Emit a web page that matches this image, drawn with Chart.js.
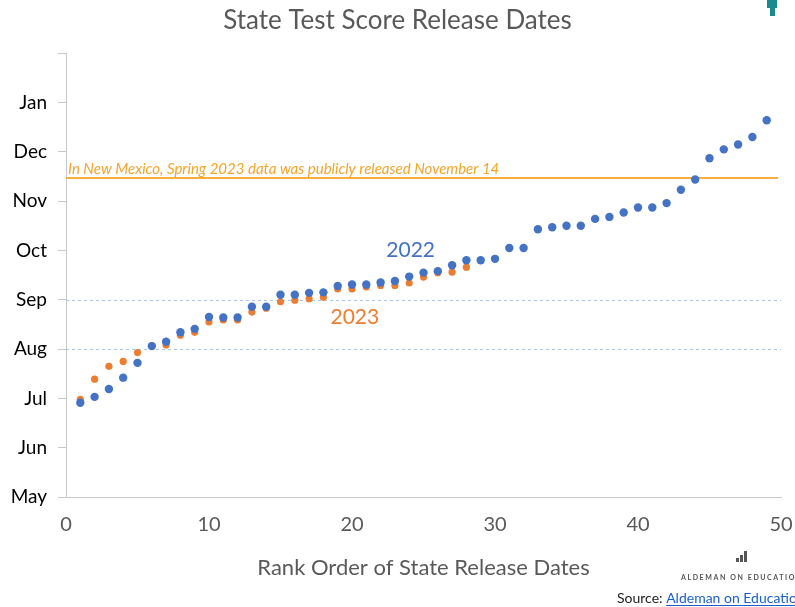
<!DOCTYPE html>
<html>
<head>
<meta charset="utf-8">
<script src="https://cdn.jsdelivr.net/npm/chart.js@4.4.0/dist/chart.umd.min.js"></script>
<style>
  body { margin: 0; background: #fff; }
  #wrap { width: 795px; height: 607px; }
</style>
</head>
<body>
<div id="wrap"><canvas id="releaseChart" width="795" height="607"></canvas></div>
<script>
// months on the y axis: May = 5 ... Jan = 13, top tick (14) unlabelled
const monthLabels = ['May', 'Jun', 'Jul', 'Aug', 'Sep', 'Oct', 'Nov', 'Dec', 'Jan', ''];
const monthValues = [5, 6, 7, 8, 9, 10, 11, 12, 13, 14];
const rankTicks = [0, 10, 20, 30, 40, 50];

// release date of each state, in rank order
const release2022 = [6.91, 7.03, 7.19, 7.42, 7.72, 8.06, 8.15, 8.34, 8.41, 8.65,
  8.64, 8.64, 8.86, 8.86, 9.10, 9.10, 9.14, 9.15, 9.28, 9.31,
  9.31, 9.35, 9.38, 9.47, 9.55, 9.58, 9.70, 9.80, 9.80, 9.83,
  10.05, 10.05, 10.43, 10.47, 10.50, 10.50, 10.64, 10.68, 10.77, 10.87,
  10.87, 10.96, 11.23, 11.44, 11.87, 12.05, 12.15, 12.30, 12.64];
const release2023 = [6.98, 7.39, 7.65, 7.75, 7.93, 8.07, 8.08, 8.28, 8.34, 8.55,
  8.59, 8.59, 8.75, 8.83, 8.96, 8.99, 9.02, 9.05, 9.22, 9.22,
  9.26, 9.29, 9.29, 9.34, 9.46, 9.55, 9.56, 9.66];

// New Mexico released Nov 14, and the dotted guides at Aug / Sep
const newMexicoRelease = 11.47;
const guideMonths = [8, 9];

const FONT = 'Lato, "Open Sans", sans-serif';

const toPoints = arr => arr.map((v, i) => ({ x: i + 1, y: v }));

// draws the guide lines, the New Mexico line and the series labels
const notesPlugin = {
    id: 'notes',
    beforeDatasetsDraw(chart) {
        const { ctx, chartArea, scales: { x, y } } = chart;
        ctx.save();
        ctx.strokeStyle = '#a9c6e8';
        ctx.lineWidth = 1;
        ctx.setLineDash([3, 3]);
        guideMonths.forEach(m => {
            const py = Math.round(y.getPixelForValue(m)) + 0.5;
            ctx.beginPath();
            ctx.moveTo(chartArea.left, py);
            ctx.lineTo(chartArea.right, py);
            ctx.stroke();
        });
        ctx.setLineDash([]);

        const ny = y.getPixelForValue(newMexicoRelease);
        ctx.strokeStyle = '#f9ad3c';
        ctx.lineWidth = 2;
        ctx.beginPath();
        ctx.moveTo(chartArea.left, ny);
        ctx.lineTo(x.getPixelForValue(49.8), ny);
        ctx.stroke();

        ctx.fillStyle = '#f5a52a';
        ctx.font = 'italic 15px ' + FONT;
        ctx.textBaseline = 'alphabetic';
        ctx.fillText('In New Mexico, Spring 2023 data was publicly released November 14', chartArea.left + 2, ny - 4);
        ctx.restore();
    },
    afterDatasetsDraw(chart) {
        const { ctx, scales: { x, y } } = chart;
        ctx.save();
        ctx.font = '21px ' + FONT;
        ctx.textAlign = 'center';
        ctx.textBaseline = 'middle';
        ctx.fillStyle = '#4472c4';
        ctx.fillText('2022', x.getPixelForValue(24.1), y.getPixelForValue(10.0));
        ctx.fillStyle = '#ed7d31';
        ctx.fillText('2023', x.getPixelForValue(20.2), y.getPixelForValue(8.64));
        ctx.restore();
    },
    afterDraw(chart) {
        const { ctx } = chart;
        ctx.save();
        // top-right logo piece
        ctx.fillStyle = '#1b8a90';
        ctx.fillRect(767, 0, 10, 8);
        ctx.fillRect(770, 8, 5, 8);

        // footer mark
        ctx.fillStyle = '#555';
        ctx.fillRect(736, 558, 3, 4);
        ctx.fillRect(740, 555, 3, 7);
        ctx.fillRect(744, 551, 3, 11);
        ctx.font = 'bold 7px ' + FONT;
        ctx.letterSpacing = '1.6px';
        ctx.fillText('ALDEMAN ON EDUCATION', 681, 580);
        ctx.letterSpacing = '0px';

        ctx.font = '14px ' + FONT;
        ctx.fillStyle = '#222';
        ctx.fillText('Source: ', 617, 603);
        const sx = 617 + ctx.measureText('Source: ').width;
        ctx.fillStyle = '#1a5fd0';
        ctx.fillText('Aldeman on Education', sx, 603);
        ctx.fillRect(sx, 605, ctx.measureText('Aldeman on Education').width, 1);
        ctx.restore();
    }
};

new Chart(document.getElementById('releaseChart'), {
    type: 'scatter',
    data: {
        datasets: [{
            label: '2022',
            data: toPoints(release2022),
            backgroundColor: '#4472c4',
            borderWidth: 0,
            pointRadius: 4.2
        }, {
            label: '2023',
            data: toPoints(release2023),
            backgroundColor: '#ed7d31',
            borderWidth: 0,
            pointRadius: 3.6
        }]
    },
    options: {
        responsive: false,
        animation: false,
        layout: { padding: 0 },
        plugins: {
            legend: { display: false },
            tooltip: { enabled: false },
            title: {
                display: true,
                text: 'State Test Score Release Dates',
                color: '#595959',
                font: { family: FONT, size: 26, weight: 'normal' },
                padding: { top: 5, bottom: 17 }
            }
        },
        scales: {
            x: {
                type: 'linear',
                min: 0,
                max: 50,
                afterBuildTicks: s => { s.ticks = rankTicks.map(v => ({ value: v })); },
                afterFit: s => { s.height = 110; s.paddingRight = 14; s.paddingLeft = 0; },
                grid: { display: false, drawTicks: false },
                border: { display: true, color: '#c8c8c8', width: 1 },
                ticks: {
                    color: '#595959',
                    font: { family: FONT, size: 20 },
                    padding: 16,
                    maxRotation: 0
                },
                title: {
                    display: true,
                    text: 'Rank Order of State Release Dates',
                    color: '#595959',
                    font: { family: FONT, size: 22 },
                    padding: { bottom: 26 }
                }
            },
            y: {
                type: 'linear',
                min: 5,
                max: 14,
                afterBuildTicks: s => { s.ticks = monthValues.map(v => ({ value: v })); },
                afterFit: s => { s.width = 66; },
                grid: {
                    drawOnChartArea: false,
                    drawTicks: true,
                    tickLength: 8,
                    color: '#c8c8c8'
                },
                border: { display: true, color: '#c8c8c8', width: 1 },
                ticks: {
                    color: '#000',
                    font: { family: FONT, size: 19 },
                    padding: 11,
                    callback: v => monthLabels[monthValues.indexOf(v)]
                }
            }
        }
    },
    plugins: [notesPlugin]
});
</script>
</body>
</html>
